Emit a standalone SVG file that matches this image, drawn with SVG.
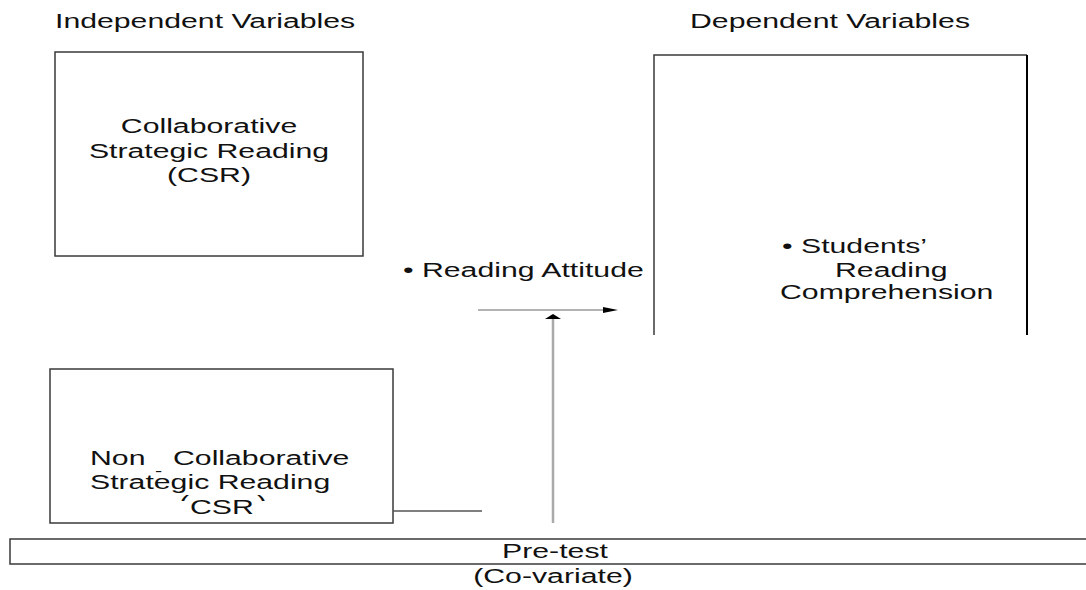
<svg xmlns="http://www.w3.org/2000/svg" width="1086" height="590" viewBox="0 0 1086 590">
<style>
text{font-family:"Liberation Sans",Arial,sans-serif;font-size:21px;fill:#111}
.hd{font-size:21px}
.box{fill:none;stroke:#3a3a3a;stroke-width:1.5}
.c{text-anchor:middle}
.gl{stroke:#9a9a9a;stroke-width:1.5;fill:none}
.gv{stroke:#aaaaaa;stroke-width:2.5;fill:none}
.dl{stroke:#555;stroke-width:1.5;fill:none}
</style>
<defs>
<marker id="ah" viewBox="0 0 15 6" refX="0" refY="3" markerWidth="15" markerHeight="6" markerUnits="userSpaceOnUse" orient="auto"><path d="M0,0 L15,3 L0,6 z" fill="#000"/></marker>
<marker id="av" viewBox="0 0 5 16" refX="0" refY="8" markerWidth="5" markerHeight="16" markerUnits="userSpaceOnUse" orient="auto"><path d="M0,0 L5,8 L0,16 z" fill="#000"/></marker>
<clipPath id="pc"><rect x="170" y="493" width="100" height="8"/></clipPath>
</defs>
<g id="headers">
<text class="hd" transform="translate(55,28) scale(1.44,1)">Independent Variables</text>
<text class="hd" transform="translate(690,28) scale(1.44,1)">Dependent Variables</text>
</g>
<g id="node-csr">
<rect class="box" x="55" y="52" width="308" height="204"/>
<text class="c" transform="translate(209,133) scale(1.44,1)">Collaborative</text>
<text class="c" transform="translate(209,158) scale(1.44,1)">Strategic Reading</text>
<text class="c" transform="translate(209,182) scale(1.44,1)">(CSR)</text>
</g>
<g id="node-dependent">
<path d="M654,335 V55 H1027" stroke="#3a3a3a" stroke-width="1.5" fill="none"/>
<path d="M1027,55 V335" stroke="#000" stroke-width="2" fill="none"/>
<text transform="translate(782,253) scale(1.44,1)">• Students’</text>
<text transform="translate(835,277) scale(1.44,1)">Reading</text>
<text transform="translate(780,299) scale(1.44,1)">Comprehension</text>
</g>
<g id="node-attitude">
<text transform="translate(403,277) scale(1.44,1)">• Reading Attitude</text>
</g>
<g id="node-noncsr">
<rect class="box" x="50" y="369" width="343" height="154"/>
<text transform="translate(90,465) scale(1.44,1)">Non</text>
<text transform="translate(173,465) scale(1.44,1)">Collaborative</text>
<text transform="translate(90,489) scale(1.44,1)">Strategic Reading</text>
<text transform="translate(155,476) scale(1.44,1)" style="font-size:15px">-</text>
<text transform="translate(190,514) scale(1.44,1)">CSR</text>
<g clip-path="url(#pc)">
<text transform="translate(179,510) scale(1.44,1)">(</text>
<text transform="translate(257,510) scale(1.44,1)">)</text>
</g>
</g>
<g id="node-pretest">
<rect class="box" x="10" y="539" width="1086" height="25"/>
<text class="c" transform="translate(555,558) scale(1.44,1)">Pre-test</text>
<text class="c" transform="translate(553,583) scale(1.44,1)">(Co-variate)</text>
</g>
<g id="connectors">
<line class="dl" x1="393" y1="511" x2="482" y2="511"/>
<line class="gl" x1="478" y1="310" x2="603" y2="310" marker-end="url(#ah)"/>
<line class="gv" x1="553" y1="523" x2="553" y2="319" marker-end="url(#av)"/>
</g>
</svg>
